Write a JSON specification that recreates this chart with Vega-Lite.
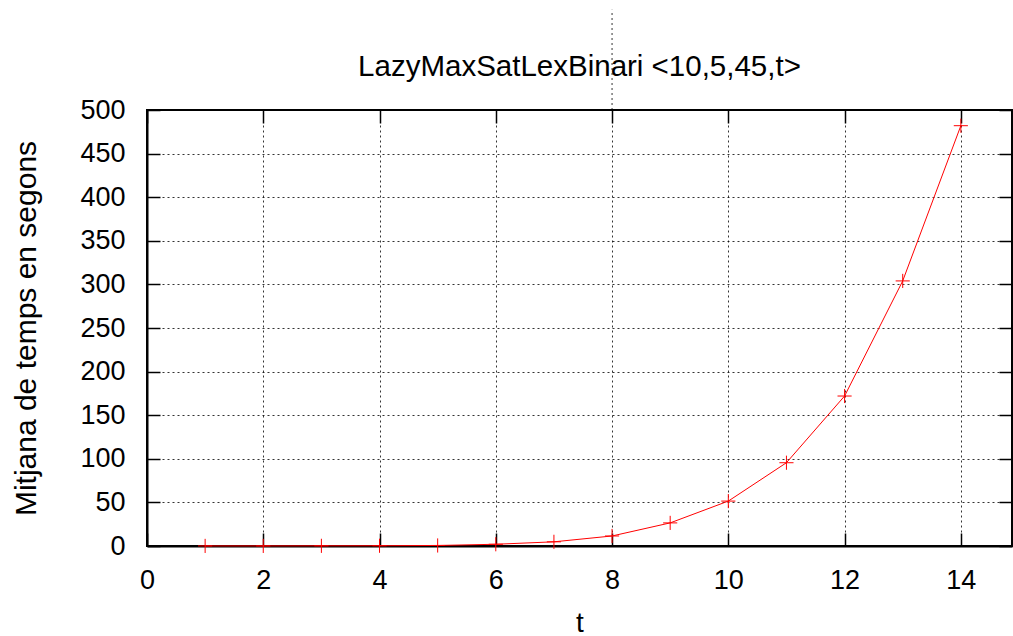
{
  "$schema": "https://vega.github.io/schema/vega-lite/v6.json",
  "width": 865,
  "height": 436,
  "autosize": {"type": "none"},
  "padding": {"left": 147, "top": 110, "right": 1, "bottom": 90},
  "background": "white",
  "config": {
    "font": "Liberation Sans",
    "view": {"stroke": "black", "strokeWidth": 2}
  },
  "title": {
    "text": "LazyMaxSatLexBinari <10,5,45,t>",
    "fontSize": 29.5,
    "fontWeight": "normal",
    "color": "black",
    "anchor": "middle",
    "baseline": "alphabetic",
    "offset": -96
  },
  "datasets": {
    "runs": [
      {"t": 1, "temps": 0.1},
      {"t": 2, "temps": 0.1},
      {"t": 3, "temps": 0.2},
      {"t": 4, "temps": 0.3},
      {"t": 5, "temps": 0.6},
      {"t": 6, "temps": 2},
      {"t": 7, "temps": 4.8},
      {"t": 8, "temps": 11.5},
      {"t": 9, "temps": 26.5},
      {"t": 10, "temps": 51.5},
      {"t": 11, "temps": 95.5},
      {"t": 12, "temps": 172},
      {"t": 13, "temps": 304},
      {"t": 14, "temps": 482}
    ],
    "stray": [{"t": 8, "from": 500, "to": 615}]
  },
  "layer": [
    {
      "data": {"name": "runs"},
      "mark": {"type": "line", "color": "red", "strokeWidth": 1},
      "encoding": {
        "x": {
          "field": "t", "type": "quantitative",
          "scale": {"domain": [0, 14.88], "nice": false, "zero": false},
          "axis": {
            "orient": "bottom",
            "values": [0, 2, 4, 6, 8, 10, 12, 14],
            "tickSize": -13, "tickWidth": 1.5, "tickColor": "black",
            "domainColor": "black", "domainWidth": 2,
            "labelFontSize": 27, "labelColor": "black", "labelPadding": 34,
            "labelFlush": false,
            "grid": true, "gridColor": "black", "gridDash": [2, 3], "gridOpacity": 0.8,
            "title": "t", "titleFontSize": 28, "titleFontWeight": "normal", "titleColor": "black",
            "titlePadding": 16
          }
        },
        "y": {
          "field": "temps", "type": "quantitative",
          "scale": {"domain": [0, 500], "nice": false},
          "axis": {
            "orient": "left",
            "values": [0, 50, 100, 150, 200, 250, 300, 350, 400, 450, 500],
            "tickSize": -13, "tickWidth": 1.5, "tickColor": "black",
            "domainColor": "black", "domainWidth": 2,
            "labelFontSize": 27, "labelColor": "black", "labelPadding": 35,
            "labelFlush": false,
            "grid": true, "gridColor": "black", "gridDash": [2, 3], "gridOpacity": 0.8,
            "title": "Mitjana de temps en segons", "titleFontSize": 30, "titleFontWeight": "normal", "titleColor": "black",
            "titlePadding": 38
          }
        }
      }
    },
    {
      "data": {"name": "runs"},
      "mark": {"type": "point", "shape": "M-1,0L1,0M0,-1L0,1", "filled": false, "stroke": "red", "strokeWidth": 1, "size": 200, "opacity": 1},
      "encoding": {
        "x": {
          "field": "t", "type": "quantitative",
          "scale": {"domain": [0, 14.88], "nice": false, "zero": false},
          "axis": {
            "orient": "top",
            "values": [0, 2, 4, 6, 8, 10, 12, 14],
            "tickSize": -13, "tickWidth": 1.5, "tickColor": "black",
            "domain": false, "labels": false, "grid": false, "title": null
          }
        },
        "y": {
          "field": "temps", "type": "quantitative",
          "scale": {"domain": [0, 500], "nice": false},
          "axis": {
            "orient": "right",
            "values": [0, 50, 100, 150, 200, 250, 300, 350, 400, 450, 500],
            "tickSize": -13, "tickWidth": 1.5, "tickColor": "black",
            "domain": false, "labels": false, "grid": false, "title": null
          }
        }
      }
    },
    {
      "data": {"name": "stray"},
      "mark": {"type": "rule", "color": "black", "strokeWidth": 1, "strokeDash": [2, 3], "opacity": 0.8, "clip": false},
      "encoding": {
        "x": {"field": "t", "type": "quantitative", "scale": {"domain": [0, 14.88], "nice": false, "zero": false}, "axis": null},
        "y": {"field": "from", "type": "quantitative", "scale": {"domain": [0, 500], "nice": false}, "axis": null},
        "y2": {"field": "to"}
      }
    }
  ],
  "resolve": {"axis": {"x": "independent", "y": "independent"}}
}
